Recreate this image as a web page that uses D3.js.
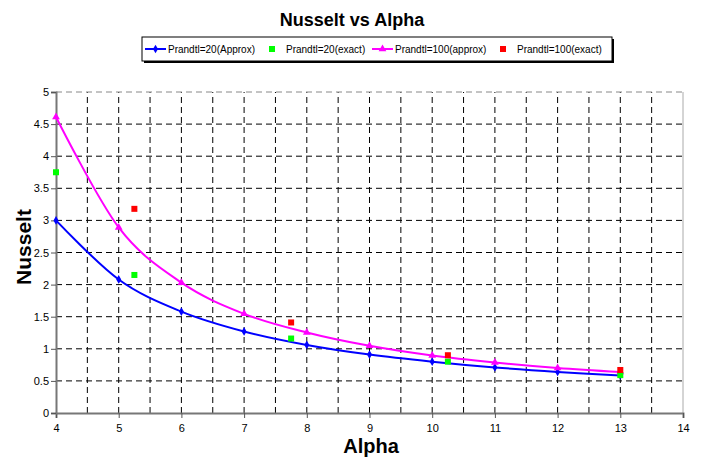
<!DOCTYPE html>
<html>
<head>
<meta charset="utf-8">
<script src="https://cdn.jsdelivr.net/npm/d3@7"></script>
<style>
  body { margin: 0; background: #fff; }
  svg { display: block; font-family: "Liberation Sans", Arial, sans-serif; }
</style>
</head>
<body>
<div id="chart"></div>
<script>
// data
const alphaApprox = [4, 5, 6, 7, 8, 9, 10, 11, 12, 13];
const pr20Approx = [3.0, 2.08, 1.58, 1.27, 1.06, 0.91, 0.80, 0.71, 0.64, 0.585];
const pr100Approx = [4.61, 2.89, 2.03, 1.545, 1.255, 1.047, 0.896, 0.787, 0.70, 0.637];
const alphaExact = [4, 5.25, 7.75, 10.25, 13];
const pr20Exact = [3.75, 2.15, 1.16, 0.80, 0.59];
const pr100Exact = [null, 3.18, 1.41, 0.90, 0.67];
const xTicks = [4, 5, 6, 7, 8, 9, 10, 11, 12, 13, 14];
const yTicks = [0, 0.5, 1, 1.5, 2, 2.5, 3, 3.5, 4, 4.5, 5];
const legendLabels = ['Prandtl=20(Approx)', 'Prandtl=20(exact)', 'Prandtl=100(approx)', 'Prandtl=100(exact)'];

const width = 708, height = 458;
const margin = { top: 92, right: 25, bottom: 45, left: 56 };

const svg = d3.select('#chart').append('svg')
  .attr('width', width)
  .attr('height', height);

const x = d3.scaleLinear().domain([4, 14]).range([margin.left, width - margin.right]);
const y = d3.scaleLinear().domain([0, 5]).range([height - margin.bottom, margin.top]);

// grid
const gridX = d3.range(4.5, 14, 0.5);
const gridY = d3.range(0.5, 5.01, 0.5);
svg.append('g').selectAll('line').data(gridX).enter().append('line')
  .attr('x1', d => x(d)).attr('x2', d => x(d))
  .attr('y1', y(0)).attr('y2', y(5))
  .attr('stroke', '#000').attr('stroke-width', 1)
  .attr('stroke-dasharray', '6,4');
svg.append('g').selectAll('line').data(gridY).enter().append('line')
  .attr('x1', x(4)).attr('x2', x(14))
  .attr('y1', d => y(d)).attr('y2', d => y(d))
  .attr('stroke', d => d === 5 ? '#888' : '#000').attr('stroke-width', 1)
  .attr('stroke-dasharray', '6,4');
svg.append('line')
  .attr('x1', x(14)).attr('x2', x(14)).attr('y1', y(0)).attr('y2', y(5))
  .attr('stroke', '#aaa');

// axes
const xAxis = svg.append('g')
  .attr('transform', `translate(0,${y(0)})`)
  .call(d3.axisBottom(x).tickValues(xTicks).tickSize(5).tickFormat(d3.format('d')));
const yAxis = svg.append('g')
  .attr('transform', `translate(${x(4)},0)`)
  .call(d3.axisLeft(y).tickValues(yTicks).tickSize(5).tickFormat(d => String(d)));
[xAxis, yAxis].forEach(a => {
  a.select('.domain').attr('stroke', '#777').attr('stroke-width', 2);
  a.selectAll('.tick line').attr('stroke', '#555');
  a.selectAll('.tick text').attr('font-size', 11).attr('fill', '#000')
    .attr('font-family', '"Liberation Sans", Arial, sans-serif');
});
xAxis.selectAll('.tick text').attr('dy', '1em');
yAxis.selectAll('.tick text').attr('x', -7);

// lines
const line = d3.line()
  .x((d, i) => x(alphaApprox[i]))
  .y(d => y(d))
  .curve(d3.curveCatmullRom.alpha(0));

svg.append('path').datum(pr20Approx)
  .attr('d', line).attr('fill', 'none')
  .attr('stroke', '#0000ff').attr('stroke-width', 2);
svg.append('path').datum(pr100Approx)
  .attr('d', line).attr('fill', 'none')
  .attr('stroke', '#ff00ff').attr('stroke-width', 2);

const diamond = d3.symbol().type(d3.symbolDiamond).size(22);
const triangle = d3.symbol().type(d3.symbolTriangle).size(26);
svg.append('g').selectAll('path').data(pr20Approx).enter().append('path')
  .attr('d', diamond)
  .attr('transform', (d, i) => `translate(${x(alphaApprox[i])},${y(d)})`)
  .attr('fill', '#0000ff');
svg.append('g').selectAll('path').data(pr100Approx).enter().append('path')
  .attr('d', triangle)
  .attr('transform', (d, i) => `translate(${x(alphaApprox[i])},${y(d)})`)
  .attr('fill', '#ff00ff');

// exact points
const sq = 6;
svg.append('g').selectAll('rect').data(pr20Exact).enter().append('rect')
  .attr('x', (d, i) => x(alphaExact[i]) - sq / 2)
  .attr('y', d => y(d) - sq / 2)
  .attr('width', sq).attr('height', sq)
  .attr('fill', '#00ff00');
svg.append('g').selectAll('rect').data(pr100Exact.map((v, i) => [alphaExact[i], v]).filter(d => d[1] !== null))
  .enter().append('rect')
  .attr('x', d => x(d[0]) - sq / 2)
  .attr('y', d => y(d[1]) - sq / 2)
  .attr('width', sq).attr('height', sq)
  .attr('fill', '#ff0000');

// titles
svg.append('text')
  .attr('x', 352).attr('y', 26)
  .attr('text-anchor', 'middle')
  .attr('font-size', 18).attr('font-weight', 'bold')
  .text('Nusselt vs Alpha');
svg.append('text')
  .attr('x', 371).attr('y', 453)
  .attr('text-anchor', 'middle')
  .attr('font-size', 20).attr('font-weight', 'bold')
  .text('Alpha');
svg.append('text')
  .attr('transform', 'translate(31,247) rotate(-90)')
  .attr('text-anchor', 'middle')
  .attr('font-size', 21).attr('font-weight', 'bold')
  .text('Nusselt');

// legend
const legend = svg.append('g');
legend.append('rect')
  .attr('x', 144).attr('y', 39).attr('width', 470).attr('height', 24)
  .attr('fill', '#000');
legend.append('rect')
  .attr('x', 142).attr('y', 37).attr('width', 470).attr('height', 24)
  .attr('fill', '#fff').attr('stroke', '#000').attr('stroke-width', 1);

const ly = 49;
const legendItems = [
  { x: 145, type: 'line', color: '#0000ff', symbol: diamond, tx: 168 },
  { x: 272, type: 'square', color: '#00ff00', tx: 286 },
  { x: 372, type: 'line', color: '#ff00ff', symbol: triangle, tx: 395 },
  { x: 503, type: 'square', color: '#ff0000', tx: 517 }
];
legendItems.forEach((item, i) => {
  if (item.type === 'line') {
    legend.append('line')
      .attr('x1', item.x).attr('x2', item.x + 21)
      .attr('y1', ly).attr('y2', ly)
      .attr('stroke', item.color).attr('stroke-width', 2);
    legend.append('path')
      .attr('d', item.symbol)
      .attr('transform', `translate(${item.x + 10.5},${ly})`)
      .attr('fill', item.color);
  } else {
    legend.append('rect')
      .attr('x', item.x - 3).attr('y', ly - 3)
      .attr('width', 6).attr('height', 6)
      .attr('fill', item.color);
  }
  legend.append('text')
    .attr('x', item.tx).attr('y', ly + 3.5)
    .attr('font-size', 10)
    .text(legendLabels[i]);
});
</script>
</body>
</html>
